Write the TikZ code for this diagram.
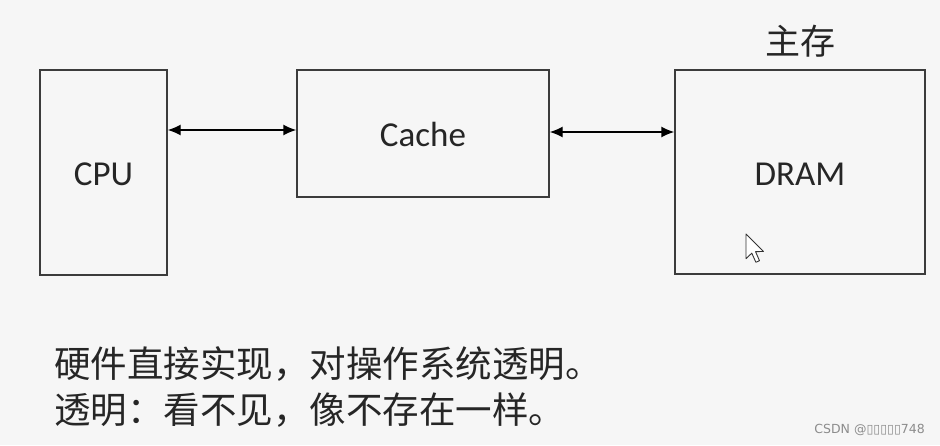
\documentclass[tikz,border=0pt]{standalone}
\usepackage{fontspec}
\newfontfamily\calfont{Carlito}
\newfontfamily\cjkfont{Noto Sans CJK SC}
\newfontfamily\dvfont{DejaVu Sans}
\usetikzlibrary{arrows.meta}
\definecolor{bgc}{RGB}{246,246,246}
\definecolor{boxc}{RGB}{60,60,60}
\tikzset{
  blk/.style={draw=boxc, line width=1.4pt, inner sep=0pt},
  lbl/.style={font=\calfont\fontsize{35}{40}\selectfont, text=black!85},
  cn/.style={font=\cjkfont\fontsize{36.5}{42}\selectfont, text=black!85, inner sep=0pt, anchor=west},
  link/.style={line width=1.4pt, {Latex[length=13pt,width=11pt]}-{Latex[length=13pt,width=11pt]}}
}
\begin{document}
\begin{tikzpicture}[x=1pt,y=-1pt]
\fill[bgc] (0,0) rectangle (940,445);
\useasboundingbox (0,0) rectangle (940,445);
% boxes
\node[blk, minimum width=127pt, minimum height=205pt] (cpu) at (103.5,172.5) {};
\node[lbl] (cpul) at (103.5,174) {CPU};
\node[blk, minimum width=252pt, minimum height=127pt] (cache) at (423,133.5) {};
\node[lbl] (cachel) at (423,134) {Cache};
\node[blk, minimum width=250pt, minimum height=204pt] (dram) at (800,172) {};
\node[lbl] (draml) at (800,174) {DRAM};
\node[font=\cjkfont\fontsize{35}{40}\selectfont, text=black!85] (zc) at (800,41) {主存};
% arrows
\draw[link] (cpu.east |- 0,130) coordinate (a1) -- (cache.west |- 0,130) coordinate (a2);
\draw[link] (cache.east |- 0,132) coordinate (b1) -- (dram.west |- 0,132) coordinate (b2);
% text
\node[cn] (t1) at (54,364) {硬件直接实现，对操作系统透明。};
\node[cn] (t2) at (54,410) {透明：看不见，像不存在一样。};
% cursor
\begin{scope}[shift={(746,234)}, scale=1.45]
\draw[line width=0.9pt, fill=white, draw=black!80, line join=round]
  (0,0) -- (0,17) -- (4,13.2) -- (6.8,19.5) -- (9.3,18.4) -- (6.6,12.2) -- (12,12) -- cycle;
\end{scope}
% watermark
\node[font=\dvfont\fontsize{12.5}{14}\selectfont, text=black!45, anchor=east, inner sep=0pt] (wm) at (925,430) {CSDN @▯▯▯▯▯748};
\end{tikzpicture}
\end{document}
